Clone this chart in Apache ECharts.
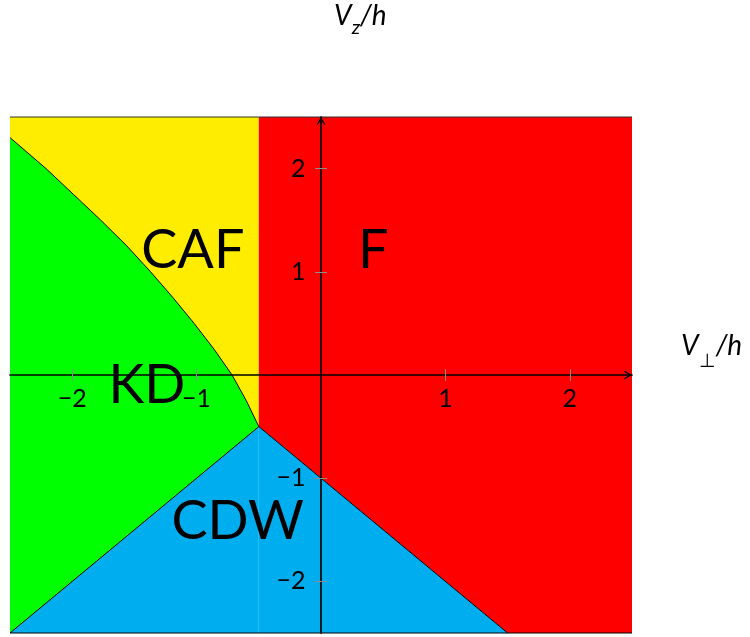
<!DOCTYPE html>
<html>
<head>
<meta charset="utf-8">
<script src="https://cdn.jsdelivr.net/npm/echarts@6/dist/echarts.min.js"></script>
<style>
html, body { margin: 0; padding: 0; background: #fff; }
#main { width: 750px; height: 637px; }
</style>
</head>
<body>
<div id="main"></div>
<script>
// axis range and ticks (V_perp/h and V_z/h)
var axisRange = [-2.5, 2.5];
var tickValues = [-2, -1, 1, 2];

// CAF / KD boundary, from the left edge down to the triple point
var cafKdBoundary = [[-2.5, 2.30], [-2.21, 2.0], [-1.99, 1.75], [-1.77, 1.5], [-1.56, 1.25],
    [-1.37, 1.0], [-1.19, 0.75], [-1.02, 0.5], [-0.86, 0.25], [-0.715, 0.0], [-0.60, -0.25], [-0.5, -0.5]];
var triplePoint = [-0.5, -0.5];
var cdwLeftEdge = [[-2.5, -2.5], [-0.5, -0.5]];
var cdwRightEdge = [[-0.5, -0.5], [1.5, -2.5]];

// phase names and where they are written
var phaseNames = ['CAF', 'F', 'KD', 'CDW'];
var phaseLabelAt = [[-1.03, 1.21], [0.42, 1.21], [-1.40, -0.10], [-0.67, -1.42]];

var lo = axisRange[0], hi = axisRange[1];
var fontName = 'Lato';

var regions = [
    {color: '#00ff00', pts: cafKdBoundary.concat([cdwLeftEdge[0]])},                              // KD
    {color: '#ffed00', pts: [[triplePoint[0], hi], [lo, hi]].concat(cafKdBoundary)},               // CAF
    {color: '#ff0000', pts: [[triplePoint[0], hi], [hi, hi], [hi, lo], cdwRightEdge[1], triplePoint]}, // F
    {color: '#00aeef', pts: [cdwLeftEdge[0], [triplePoint[0], lo], triplePoint]},                   // CDW (left part)
    {color: '#00aeef', pts: [[triplePoint[0], lo], cdwRightEdge[1], triplePoint]}                   // CDW (right part)
];

function fmt(v) {
    return v < 0 ? '\u2212' + (-v) : String(v);
}

var arrowPath = 'path://M5 0 L10 8.5 L8.8 9.6 L5 3.2 L1.2 9.6 L0 8.5 Z';
var tickStyle = {color: '#8c8c8c', width: 1};

function boundaryLine(pts, color) {
    return {
        type: 'line', data: pts, symbol: 'none', silent: true, clip: false, z: 3,
        lineStyle: {color: color, width: 1}
    };
}

function valueAxis(pos, zeroIdx, visibleLine) {
    var ax = {
        type: 'value', min: lo, max: hi, position: pos, z: 10,
        axisLine: {onZero: true, onZeroAxisIndex: zeroIdx,
            lineStyle: visibleLine ? {color: '#000', width: 1.7} : {color: 'rgba(0,0,0,0)', width: 0}},
        axisTick: {show: true, customValues: tickValues, length: 6, lineStyle: tickStyle},
        axisLabel: {show: false},
        splitLine: {show: false}
    };
    if (visibleLine) {
        ax.axisLine.symbol = ['none', arrowPath];
        ax.axisLine.symbolSize = [9, 8];
        ax.axisLine.symbolOffset = [0, -4];
    }
    return ax;
}

// invisible points that only carry text
function textPoints(data, label, z) {
    return {
        type: 'scatter', silent: true, z: z, symbolSize: 1,
        itemStyle: {color: 'rgba(0,0,0,0)', opacity: 1},
        data: data,
        label: Object.assign({show: true, color: '#000', opacity: 1, fontFamily: fontName}, label)
    };
}

var myChart = echarts.init(document.getElementById('main'));
var option = {
    animation: false,
    grid: {left: 10, right: 118, top: 117, bottom: 4, containLabel: false, outerBoundsMode: 'none'},
    xAxis: [valueAxis('bottom', 0, true), valueAxis('top', 1, false)],
    yAxis: [valueAxis('left', 0, true), valueAxis('right', 1, false)],
    graphic: [{
        type: 'text', z: 20,
        style: {
            x: 334, y: 2, align: 'left', verticalAlign: 'top',
            text: '{m|V}{s|z}{m|/h}',
            rich: {
                m: {fontSize: 28, lineHeight: 28, fontStyle: 'italic', fontFamily: fontName, verticalAlign: 'top', fill: '#000'},
                s: {fontSize: 20, lineHeight: 36, fontStyle: 'italic', fontFamily: fontName, verticalAlign: 'bottom', fill: '#000'}
            }
        }
    }, {
        type: 'text', z: 20,
        style: {
            x: 681, y: 332, align: 'left', verticalAlign: 'top',
            text: '{m|V}{s|\u22a5}{m|/h}',
            rich: {
                m: {fontSize: 28, lineHeight: 28, fontStyle: 'italic', fontFamily: fontName, verticalAlign: 'top', fill: '#000'},
                s: {fontSize: 19, lineHeight: 38, fontFamily: fontName, verticalAlign: 'bottom', fill: '#000'}
            }
        }
    }],
    series: [{
        type: 'custom', z: 1, silent: true, clip: false,
        data: regions.map(function (r, i) { return [i]; }),
        renderItem: function (params, api) {
            var r = regions[params.dataIndex];
            return {
                type: 'polygon',
                shape: {points: r.pts.map(function (p) { return api.coord(p); })},
                style: {fill: r.color}
            };
        }
    },
        boundaryLine(cafKdBoundary, '#000'),
        boundaryLine(cdwLeftEdge, '#000'),
        boundaryLine(cdwRightEdge, '#000'),
        boundaryLine([[lo, hi], [hi, hi]], '#333'),
        boundaryLine([[lo, lo], [hi, lo]], '#000'),
        textPoints(tickValues.map(function (v) { return [v, 0]; }),
            {position: 'bottom', distance: 11, fontSize: 25, formatter: function (p) { return fmt(p.value[0]); }}, 12),
        textPoints(tickValues.map(function (v) { return [0, v]; }),
            {position: 'left', distance: 15, fontSize: 25, formatter: function (p) { return fmt(p.value[1]); }}, 12),
        textPoints(phaseLabelAt.map(function (p, i) { return {value: p, name: phaseNames[i]}; }),
            {position: 'inside', formatter: '{b}', fontSize: 54}, 4)
    ]
};
myChart.setOption(option);
</script>
</body>
</html>
